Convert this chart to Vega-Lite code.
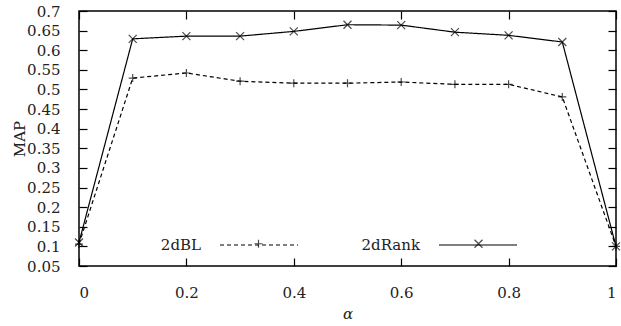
{
  "$schema": "https://vega.github.io/schema/vega-lite/v6.json",
  "width": 537,
  "height": 255,
  "autosize": {"type": "none"},
  "padding": {"left": 79, "top": 11, "right": 5, "bottom": 60},
  "background": "white",
  "data": {"values": [
    {"alpha": 0, "map": 0.106, "series": "2dBL"},
    {"alpha": 0.1, "map": 0.529, "series": "2dBL"},
    {"alpha": 0.2, "map": 0.542, "series": "2dBL"},
    {"alpha": 0.3, "map": 0.521, "series": "2dBL"},
    {"alpha": 0.4, "map": 0.516, "series": "2dBL"},
    {"alpha": 0.5, "map": 0.516, "series": "2dBL"},
    {"alpha": 0.6, "map": 0.519, "series": "2dBL"},
    {"alpha": 0.7, "map": 0.513, "series": "2dBL"},
    {"alpha": 0.8, "map": 0.513, "series": "2dBL"},
    {"alpha": 0.9, "map": 0.481, "series": "2dBL"},
    {"alpha": 1, "map": 0.1, "series": "2dBL"},
    {"alpha": 0, "map": 0.11, "series": "2dRank"},
    {"alpha": 0.1, "map": 0.629, "series": "2dRank"},
    {"alpha": 0.2, "map": 0.636, "series": "2dRank"},
    {"alpha": 0.3, "map": 0.636, "series": "2dRank"},
    {"alpha": 0.4, "map": 0.648, "series": "2dRank"},
    {"alpha": 0.5, "map": 0.665, "series": "2dRank"},
    {"alpha": 0.6, "map": 0.664, "series": "2dRank"},
    {"alpha": 0.7, "map": 0.646, "series": "2dRank"},
    {"alpha": 0.8, "map": 0.638, "series": "2dRank"},
    {"alpha": 0.9, "map": 0.621, "series": "2dRank"},
    {"alpha": 1, "map": 0.1, "series": "2dRank"}
  ]},
  "layer": [
    {
      "mark": {"type": "line", "color": "black", "strokeWidth": 1.2},
      "encoding": {
        "x": {"field": "alpha", "type": "quantitative",
          "scale": {"domain": [0, 1], "nice": false, "zero": false},
          "axis": {"orient": "bottom", "title": "α", "values": [0, 0.2, 0.4, 0.6, 0.8, 1], "format": "~g",
            "grid": false, "domain": false, "tickSize": -8, "labelPadding": 27, "titlePadding": 6,
            "titleFontStyle": "italic"}},
        "y": {"field": "map", "type": "quantitative",
          "scale": {"domain": [0.05, 0.7], "nice": false, "zero": false},
          "axis": {"orient": "left", "title": "MAP",
            "values": [0.05, 0.1, 0.15, 0.2, 0.25, 0.3, 0.35, 0.4, 0.45, 0.5, 0.55, 0.6, 0.65, 0.7], "format": "~g",
            "grid": false, "domain": false, "tickSize": -8, "labelPadding": 27, "titlePadding": -1}},
        "strokeDash": {"field": "series", "type": "nominal",
          "scale": {"domain": ["2dBL", "2dRank"], "range": [[4, 3], [1, 0]]},
          "legend": {
            "title": null, "orient": "none", "direction": "horizontal", "legendX": 140, "legendY": 194,
            "symbolType": "stroke", "symbolSize": 6084, "symbolStrokeWidth": 1.2,
            "symbolStrokeColor": "black", "symbolFillColor": "transparent",
            "labelAlign": "right", "labelOffset": -98, "columnPadding": 60
          }}
      }
    },
    {
      "mark": {"type": "point", "color": "black", "filled": false, "strokeWidth": 1.2, "size": 64},
      "encoding": {
        "x": {"field": "alpha", "type": "quantitative",
          "axis": {"orient": "top", "title": null, "labels": false, "values": [0, 0.2, 0.4, 0.6, 0.8, 1],
            "grid": false, "domain": false, "tickSize": -8}},
        "y": {"field": "map", "type": "quantitative",
          "axis": {"orient": "right", "title": null, "labels": false,
            "values": [0.05, 0.1, 0.15, 0.2, 0.25, 0.3, 0.35, 0.4, 0.45, 0.5, 0.55, 0.6, 0.65, 0.7],
            "grid": false, "domain": false, "tickSize": -8}},
        "shape": {"field": "series", "type": "nominal",
          "scale": {"range": ["M-1,0H1M0,-1V1", "M-1,-1L1,1M-1,1L1,-1"]},
          "legend": {
            "title": null, "orient": "none", "direction": "horizontal", "legendX": 172, "legendY": 225,
            "symbolSize": 64, "symbolStrokeWidth": 1.2, "symbolStrokeColor": "black",
            "symbolFillColor": "transparent", "labelExpr": "''", "labelOffset": 0, "columnPadding": 205
          }}
      }
    }
  ],
  "resolve": {"axis": {"x": "independent", "y": "independent"}},
  "config": {
    "view": {"stroke": "black", "strokeWidth": 1.5},
    "font": "DejaVu Serif",
    "axis": {"labelFont": "DejaVu Serif", "labelFontSize": 15, "labelColor": "#222",
      "titleFont": "DejaVu Serif", "titleFontSize": 15, "titleFontWeight": "normal", "titleColor": "#222",
      "tickColor": "black", "tickWidth": 1.2},
    "legend": {"labelFont": "DejaVu Serif", "labelFontSize": 15, "labelColor": "#222"}
  }
}
